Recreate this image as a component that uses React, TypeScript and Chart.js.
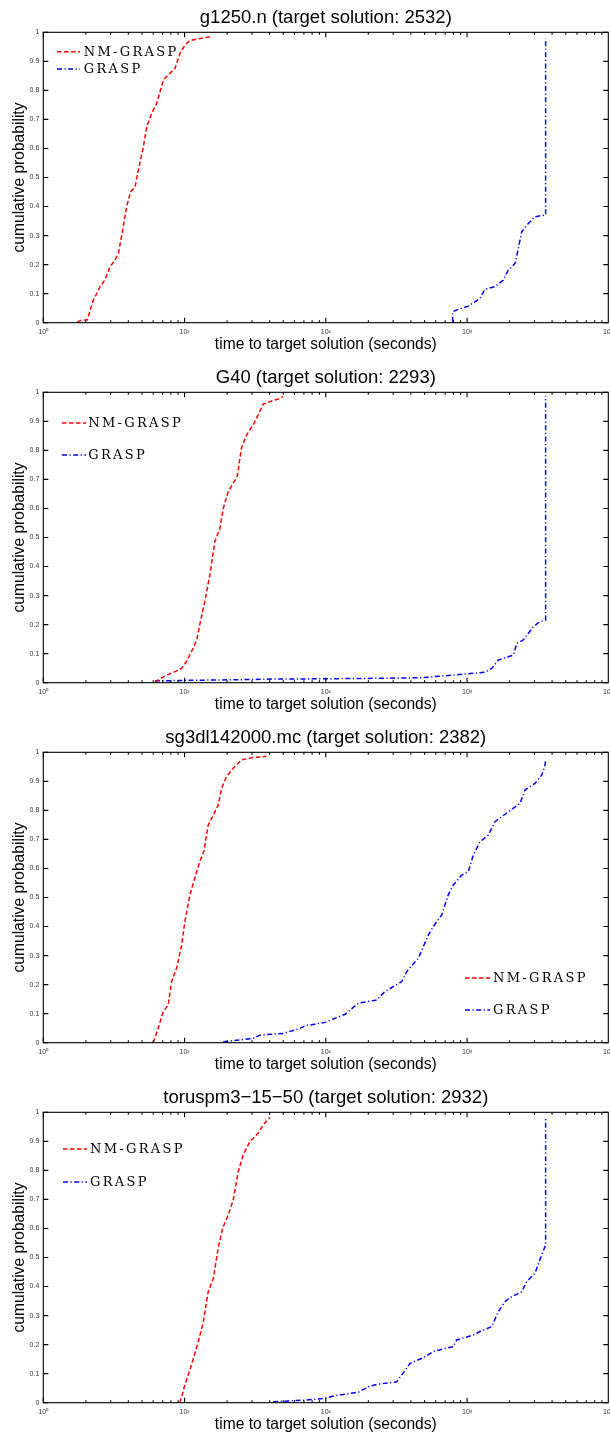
import React, { useEffect, useRef } from "react";
import { Chart, registerables } from "chart.js";

Chart.register(...registerables);

// ---------- data ----------
const X_TICKS = [1, 10, 100, 1000, 10000];
const X_TICK_LABELS = ["10⁰", "10¹", "10²", "10³", "10⁴"];
const Y_TICKS = [0, 0.1, 0.2, 0.3, 0.4, 0.5, 0.6, 0.7, 0.8, 0.9, 1];
const SERIES_LABELS = ["NM-GRASP", "GRASP"];
const PANEL_TITLES = [
  "g1250.n (target solution: 2532)",
  "G40 (target solution: 2293)",
  "sg3dl142000.mc (target solution: 2382)",
  "toruspm3\u221215\u221250 (target solution: 2932)",
];
const X_TITLE = "time to target solution (seconds)";
const Y_TITLE = "cumulative probability";

const g1250NmTimes = [1.74, 1.85, 2.05, 2.26, 2.39, 2.52, 2.73, 2.97, 3.22, 3.4, 3.65, 3.89, 4.16, 4.46, 4.71, 5.11, 5.4, 5.85, 6.35, 7.08, 7.89, 8.56, 9.29, 10.07, 10.9, 12.9, 15.6];
const g1250NmProbs = [0.003, 0.008, 0.01, 0.078, 0.1, 0.124, 0.147, 0.193, 0.216, 0.239, 0.319, 0.4, 0.451, 0.468, 0.526, 0.606, 0.675, 0.721, 0.755, 0.836, 0.859, 0.876, 0.928, 0.956, 0.971, 0.979, 0.985];
const g1250GraspTimes = [791, 791, 867, 1021, 1236, 1340, 1578, 1806, 1959, 2187, 2307, 2437, 2716, 3028, 3600, 3600];
const g1250GraspProbs = [0.003, 0.038, 0.046, 0.057, 0.084, 0.115, 0.124, 0.147, 0.181, 0.204, 0.256, 0.313, 0.342, 0.365, 0.371, 0.979];

const g40NmTimes = [6.17, 6.69, 7.46, 8.55, 9.53, 10.3, 11.2, 12.2, 12.8, 13.9, 15.1, 16.4, 17.8, 18.8, 20.4, 22.1, 23.6, 25.3, 27.5, 30.6, 33.2, 36.0, 40.2, 46.0, 49.9];
const g40NmProbs = [0.003, 0.013, 0.026, 0.038, 0.049, 0.072, 0.107, 0.147, 0.199, 0.279, 0.371, 0.486, 0.532, 0.601, 0.658, 0.687, 0.71, 0.808, 0.853, 0.888, 0.922, 0.959, 0.968, 0.977, 0.985];
const g40GraspTimes = [6.17, 9.8, 22.1, 49.9, 71.3, 211, 478, 698, 967, 1340, 1495, 1666, 1857, 2127, 2245, 2502, 2944, 3281, 3600, 3600];
const g40GraspProbs = [0.006, 0.008, 0.01, 0.013, 0.013, 0.015, 0.017, 0.024, 0.03, 0.036, 0.049, 0.078, 0.086, 0.095, 0.135, 0.147, 0.193, 0.21, 0.216, 0.988];

const sgNmTimes = [6.0, 6.5, 7.07, 7.66, 8.09, 8.78, 9.52, 10.05, 10.9, 11.8, 12.8, 13.7, 14.7, 16.0, 17.3, 18.3, 19.8, 22.1, 25.3, 30.6, 38.0];
const sgNmProbs = [0, 0.049, 0.107, 0.13, 0.21, 0.256, 0.335, 0.417, 0.508, 0.566, 0.623, 0.658, 0.749, 0.784, 0.818, 0.876, 0.916, 0.945, 0.974, 0.982, 0.986];
const sgGraspTimes = [18.8, 30.6, 34.1, 49.9, 65.5, 71.3, 98.7, 137, 170, 229, 262, 344, 374, 452, 532, 577, 661, 736, 799, 916, 1021, 1107, 1235, 1415, 1578, 1960, 2371, 2571, 3028, 3376, 3563, 3600];
const sgGraspProbs = [0.003, 0.015, 0.026, 0.032, 0.049, 0.058, 0.07, 0.098, 0.136, 0.147, 0.176, 0.21, 0.245, 0.291, 0.371, 0.4, 0.44, 0.509, 0.543, 0.577, 0.589, 0.646, 0.692, 0.715, 0.761, 0.795, 0.824, 0.87, 0.893, 0.921, 0.955, 0.972];

const torNmTimes = [9.27, 10.05, 11.2, 12.5, 13.6, 14.7, 16.0, 17.3, 18.6, 20.4, 22.1, 24.0, 26.0, 29.0, 33.2, 36.0, 40.2];
const torNmProbs = [0, 0.061, 0.13, 0.21, 0.279, 0.382, 0.428, 0.532, 0.601, 0.647, 0.698, 0.796, 0.853, 0.899, 0.928, 0.956, 0.982];
const torGraspTimes = [42.4, 71.3, 98.7, 116, 170, 200, 229, 318, 344, 394, 490, 577, 698, 799, 845, 1107, 1236, 1495, 1666, 1857, 2015, 2437, 2643, 3028, 3376, 3600, 3600];
const torGraspProbs = [0.003, 0.009, 0.015, 0.024, 0.036, 0.055, 0.063, 0.072, 0.095, 0.135, 0.155, 0.176, 0.187, 0.193, 0.216, 0.233, 0.245, 0.262, 0.314, 0.348, 0.362, 0.382, 0.417, 0.446, 0.509, 0.543, 0.979];

// ---------- layout / style ----------
const SANS = "'Liberation Sans', Arial, Helvetica, sans-serif";
const SERIF = "'DejaVu Serif', 'Liberation Serif', serif";
const PANEL_H = 360;

type Legend = { lineX0: number; lineX1: number; textX: number; rows: number[] };

const PANELS = [
  { title: PANEL_TITLES[0], nmT: g1250NmTimes, nmP: g1250NmProbs, gT: g1250GraspTimes, gP: g1250GraspProbs,
    legend: { lineX0: 13.7, lineX1: 36.7, textX: 40.5, rows: [19.4, 36.7] } },
  { title: PANEL_TITLES[1], nmT: g40NmTimes, nmP: g40NmProbs, gT: g40GraspTimes, gP: g40GraspProbs,
    legend: { lineX0: 18.7, lineX1: 42.7, textX: 45, rows: [30.7, 62.7] } },
  { title: PANEL_TITLES[2], nmT: sgNmTimes, nmP: sgNmProbs, gT: sgGraspTimes, gP: sgGraspProbs,
    legend: { lineX0: 421.7, lineX1: 446.7, textX: 449.7, rows: [225.7, 257.7] } },
  { title: PANEL_TITLES[3], nmT: torNmTimes, nmP: torNmProbs, gT: torGraspTimes, gP: torGraspProbs,
    legend: { lineX0: 19.7, lineX1: 43.7, textX: 46.7, rows: [36.7, 69.7] } },
];

const framePlugin = {
  id: "matlabFrame",
  afterDraw(chart: any, _args: any, opts: any) {
    const { ctx, chartArea: a, scales } = chart;
    const xs = scales.x;
    const ys = scales.y;
    ctx.save();
    ctx.strokeStyle = "#000";
    ctx.lineWidth = 1.1;
    ctx.setLineDash([]);
    ctx.strokeRect(a.left, a.top, a.right - a.left, a.bottom - a.top);
    ctx.beginPath();
    for (const d of [1, 10, 100, 1000]) {
      for (let m = 1; m <= 9; m++) {
        const px = xs.getPixelForValue(d * m);
        const len = m === 1 ? 5 : 2.5;
        ctx.moveTo(px, a.bottom);
        ctx.lineTo(px, a.bottom - len);
        ctx.moveTo(px, a.top);
        ctx.lineTo(px, a.top + len);
      }
    }
    for (const v of Y_TICKS) {
      const py = ys.getPixelForValue(v);
      ctx.moveTo(a.left, py);
      ctx.lineTo(a.left + 5, py);
      ctx.moveTo(a.right, py);
      ctx.lineTo(a.right - 5, py);
    }
    ctx.stroke();

    // legend
    const lg: Legend = opts.legend;
    if (lg) {
      chart.data.datasets.forEach((ds: any, i: number) => {
        const y = a.top + lg.rows[i];
        ctx.beginPath();
        ctx.strokeStyle = ds.borderColor;
        ctx.lineWidth = ds.borderWidth;
        ctx.setLineDash(ds.borderDash || []);
        ctx.moveTo(a.left + lg.lineX0, y);
        ctx.lineTo(a.left + lg.lineX1, y);
        ctx.stroke();
        ctx.setLineDash([]);
        ctx.fillStyle = "#000";
        ctx.font = `13px ${SERIF}`;
        (ctx as any).letterSpacing = "2.3px";
        ctx.textAlign = "left";
        ctx.textBaseline = "middle";
        ctx.fillText(ds.label, a.left + lg.textX, y + 0.5);
        (ctx as any).letterSpacing = "0px";
      });
    }
    ctx.restore();
  },
};

function toPoints(ts: number[], ps: number[]) {
  return ts.map((t, i) => ({ x: t, y: ps[i] }));
}

function buildConfig(p: (typeof PANELS)[number]): any {
  return {
    type: "line",
    data: {
      datasets: [
        {
          label: SERIES_LABELS[0],
          data: toPoints(p.nmT, p.nmP),
          borderColor: "#ff0000",
          borderWidth: 1.5,
          borderDash: [4.5, 2.5],
          pointRadius: 0,
          fill: false,
          tension: 0,
        },
        {
          label: SERIES_LABELS[1],
          data: toPoints(p.gT, p.gP),
          borderColor: "#0000ff",
          borderWidth: 1.5,
          borderDash: [5, 2.5, 1.2, 2.5],
          pointRadius: 0,
          fill: false,
          tension: 0,
        },
      ],
    },
    options: {
      animation: false,
      responsive: false,
      events: [],
      layout: { padding: { left: 0, right: 1.7, top: 0, bottom: 0 } },
      plugins: {
        legend: { display: false },
        tooltip: { enabled: false },
        title: {
          display: true,
          text: p.title,
          fullSize: false,
          color: "#000",
          font: { family: SANS, size: 18.5, weight: "normal", lineHeight: 1.2 },
          padding: { top: 6.9, bottom: 3.2 },
        },
        matlabFrame: { legend: p.legend },
      },
      scales: {
        x: {
          type: "logarithmic",
          min: 1,
          max: 10000,
          position: "bottom",
          grid: { display: false, drawTicks: false },
          border: { display: false },
          afterBuildTicks: (s: any) => {
            s.ticks = X_TICKS.map((v) => ({ value: v }));
          },
          afterFit: (s: any) => {
            s.height = 37.3;
            s.paddingLeft = 0;
            s.paddingRight = 0;
          },
          ticks: {
            autoSkip: false,
            maxRotation: 0,
            minRotation: 0,
            padding: 5,
            color: "#333",
            font: { family: SANS, size: 7 },
            callback: (v: number) => {
              const i = X_TICKS.indexOf(v);
              return i >= 0 ? X_TICK_LABELS[i] : "";
            },
          },
          title: {
            display: true,
            text: X_TITLE,
            color: "#000",
            font: { family: SANS, size: 15.6, lineHeight: 1.2 },
            padding: { top: 0, bottom: 5.6 },
          },
        },
        y: {
          type: "linear",
          min: 0,
          max: 1,
          position: "left",
          grid: { display: false, drawTicks: false },
          border: { display: false },
          afterBuildTicks: (s: any) => {
            s.ticks = Y_TICKS.map((v) => ({ value: v }));
          },
          afterFit: (s: any) => {
            s.width = 43.3;
            s.paddingTop = 0;
            s.paddingBottom = 0;
          },
          ticks: {
            autoSkip: false,
            padding: 4,
            color: "#333",
            font: { family: SANS, size: 7 },
            callback: (v: number) => String(Math.round(v * 10) / 10),
          },
          title: {
            display: true,
            text: Y_TITLE,
            color: "#000",
            font: { family: SANS, size: 15.6, lineHeight: 1.2 },
            padding: { top: 10.6, bottom: 0 },
          },
        },
      },
    },
    plugins: [framePlugin],
  };
}

function Panel({ index }: { index: number }) {
  const ref = useRef<HTMLCanvasElement>(null);
  useEffect(() => {
    if (!ref.current) return;
    const chart = new Chart(ref.current, buildConfig(PANELS[index]));
    return () => chart.destroy();
  }, [index]);
  return (
    <canvas
      ref={ref}
      width={610}
      height={PANEL_H}
      style={{ position: "absolute", left: 0, top: index * PANEL_H, width: 610, height: PANEL_H, display: "block" }}
    />
  );
}

export default function App() {
  return (
    <div
      style={{
        position: "absolute",
        left: 0,
        top: 0,
        width: 610,
        height: 1437,
        overflow: "hidden",
        background: "#fff",
      }}
    >
      {PANELS.map((_, i) => (
        <Panel key={i} index={i} />
      ))}
    </div>
  );
}
